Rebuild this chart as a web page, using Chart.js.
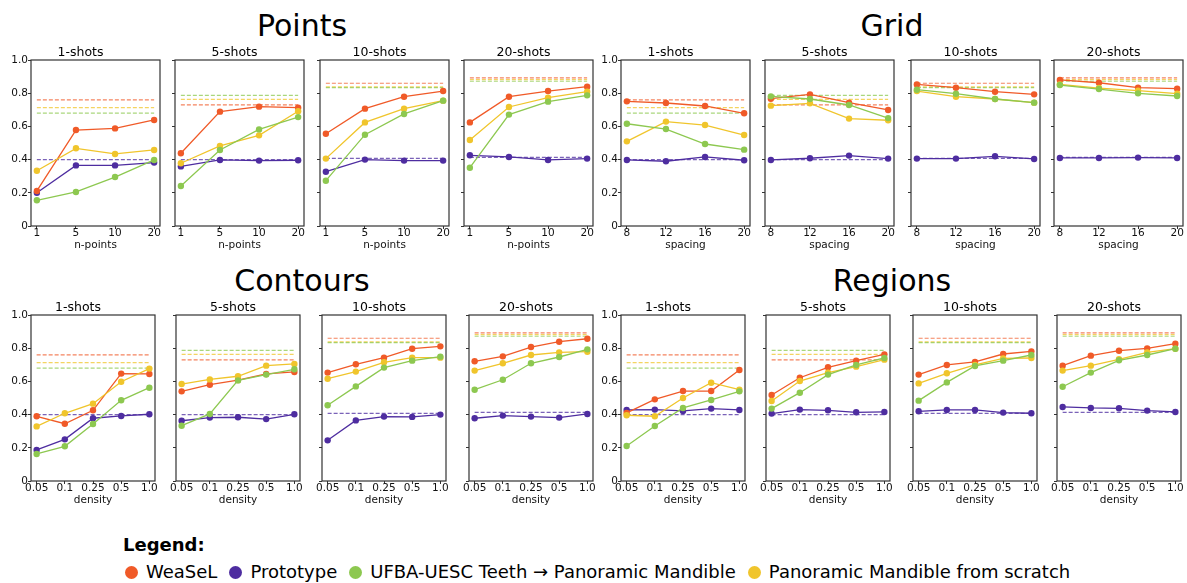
<!DOCTYPE html>
<html>
<head>
<meta charset="utf-8">
<title>Few-shot results</title>
<script src="https://cdn.jsdelivr.net/npm/chart.js@4.4.1/dist/chart.umd.min.js"></script>
<style>
  body { margin: 0; background: #fff; font-family: "DejaVu Sans", sans-serif; }
  #fig { position: relative; width: 1187px; height: 583px; overflow: hidden; background: #fff; }
  #fig canvas { position: absolute; }
  .group-title { position: absolute; width: 400px; text-align: center; font-size: 30px; line-height: 30px; color: #000; }
  #legend-title { position: absolute; left: 123px; top: 536px; font-size: 18px; line-height: 18px; font-weight: bold; color: #000; }
  #legend { position: absolute; left: 125px; top: 563px; display: flex; align-items: center; font-size: 18px; line-height: 18px; color: #000; white-space: nowrap; }
  #legend .item { display: flex; align-items: center; margin-right: 12px; }
  #legend .dot { width: 13px; height: 13px; border-radius: 50%; margin-right: 8px; }
</style>
</head>
<body>
<div id="fig">
  <div id="legend-title">Legend:</div>
  <div id="legend"></div>
</div>
<script>
// ---- labels ----
const shotTitles = ['1-shots', '5-shots', '10-shots', '20-shots'];
const pointTicks = ['1', '5', '10', '20'];
const gridTicks = ['8', '12', '16', '20'];
const densityTicks = ['0.05', '0.1', '0.25', '0.5', '1.0'];
const yTicks = [0, 0.2, 0.4, 0.6, 0.8, 1.0];
const methodNames = ['WeaSeL', 'Prototype', 'UFBA-UESC Teeth \u2192 Panoramic Mandible', 'Panoramic Mandible from scratch'];

// ---- Points (one row per shot count) ----
const pointsWeasel  = [[0.211, 0.578, 0.588, 0.639], [0.438, 0.689, 0.719, 0.713], [0.556, 0.707, 0.779, 0.813], [0.624, 0.779, 0.813, 0.839]];
const pointsProto   = [[0.200, 0.365, 0.365, 0.382], [0.359, 0.398, 0.394, 0.396], [0.327, 0.400, 0.394, 0.394], [0.426, 0.416, 0.398, 0.406]];
const pointsUfba    = [[0.155, 0.205, 0.295, 0.398], [0.241, 0.458, 0.582, 0.656], [0.273, 0.550, 0.675, 0.755], [0.351, 0.671, 0.749, 0.787]];
const pointsScratch = [[0.333, 0.468, 0.434, 0.458], [0.378, 0.482, 0.546, 0.691], [0.406, 0.624, 0.707, 0.755], [0.518, 0.717, 0.773, 0.809]];

// ---- Grid ----
const gridWeasel  = [[0.751, 0.741, 0.723, 0.679], [0.767, 0.793, 0.743, 0.699], [0.853, 0.833, 0.809, 0.793], [0.880, 0.863, 0.833, 0.827]];
const gridProto   = [[0.398, 0.390, 0.416, 0.396], [0.398, 0.408, 0.424, 0.406], [0.406, 0.406, 0.420, 0.404], [0.410, 0.410, 0.412, 0.410]];
const gridUfba    = [[0.616, 0.584, 0.494, 0.460], [0.781, 0.765, 0.729, 0.650], [0.821, 0.797, 0.765, 0.743], [0.849, 0.825, 0.799, 0.783]];
const gridScratch = [[0.510, 0.629, 0.608, 0.548], [0.725, 0.739, 0.647, 0.637], [0.813, 0.779, 0.765, 0.743], [0.853, 0.831, 0.815, 0.797]];

// ---- Contours ----
const contoursWeasel  = [[0.390, 0.345, 0.426, 0.647, 0.645], [0.540, 0.580, 0.608, 0.645, 0.657], [0.653, 0.703, 0.743, 0.797, 0.811], [0.721, 0.751, 0.807, 0.839, 0.857]];
const contoursProto   = [[0.187, 0.251, 0.378, 0.392, 0.402], [0.363, 0.382, 0.384, 0.373, 0.402], [0.245, 0.365, 0.388, 0.386, 0.400], [0.378, 0.394, 0.388, 0.382, 0.404]];
const contoursUfba    = [[0.163, 0.209, 0.343, 0.486, 0.562], [0.333, 0.404, 0.606, 0.641, 0.673], [0.456, 0.570, 0.683, 0.725, 0.749], [0.550, 0.610, 0.709, 0.747, 0.793]];
const contoursScratch = [[0.329, 0.408, 0.466, 0.598, 0.677], [0.584, 0.612, 0.631, 0.695, 0.705], [0.616, 0.659, 0.715, 0.743, 0.743], [0.665, 0.709, 0.759, 0.775, 0.779]];

// ---- Regions ----
const regionsWeasel  = [[0.410, 0.492, 0.542, 0.542, 0.669], [0.518, 0.622, 0.685, 0.725, 0.763], [0.641, 0.699, 0.717, 0.765, 0.781], [0.695, 0.755, 0.785, 0.799, 0.827]];
const regionsProto   = [[0.428, 0.430, 0.422, 0.436, 0.428], [0.406, 0.430, 0.426, 0.414, 0.416], [0.420, 0.428, 0.428, 0.412, 0.408], [0.446, 0.440, 0.438, 0.424, 0.416]];
const regionsUfba    = [[0.211, 0.331, 0.440, 0.488, 0.540], [0.436, 0.532, 0.641, 0.699, 0.741], [0.484, 0.594, 0.693, 0.725, 0.759], [0.568, 0.653, 0.727, 0.759, 0.797]];
const regionsScratch = [[0.396, 0.390, 0.500, 0.592, 0.550], [0.482, 0.602, 0.653, 0.689, 0.731], [0.588, 0.649, 0.699, 0.739, 0.741], [0.665, 0.695, 0.733, 0.775, 0.797]];

// ---- fully supervised reference (dashed), per shot count ----
const weaselBase  = [0.760, 0.730, 0.860, 0.892];
const protoBase   = [0.400, 0.400, 0.407, 0.413];
const ufbaBase    = [0.680, 0.787, 0.833, 0.872];
const scratchBase = [0.713, 0.763, 0.838, 0.882];

// ---- styling ----
const methodColors = ['#F05A28', '#4E2DA0', '#8DC850', '#F0C52C'];
const dashColors = ['rgba(240,90,40,0.75)', 'rgba(78,45,160,0.75)', 'rgba(141,200,80,0.75)', 'rgba(240,197,44,0.75)'];
const drawOrder = [2, 3, 0, 1]; // lower = drawn on top
const bases = [weaselBase, protoBase, ufbaBase, scratchBase];

const groups = [
  { name: 'Points',   xLabel: 'n-points', ticks: pointTicks,   series: [pointsWeasel, pointsProto, pointsUfba, pointsScratch],     row: 0, half: 0 },
  { name: 'Grid',     xLabel: 'spacing',  ticks: gridTicks,    series: [gridWeasel, gridProto, gridUfba, gridScratch],             row: 0, half: 1 },
  { name: 'Contours', xLabel: 'density',  ticks: densityTicks, series: [contoursWeasel, contoursProto, contoursUfba, contoursScratch], row: 1, half: 0 },
  { name: 'Regions',  xLabel: 'density',  ticks: densityTicks, series: [regionsWeasel, regionsProto, regionsUfba, regionsScratch], row: 1, half: 1 }
];

// plot rectangles
const rowTop = [60, 315];
const plotH = 166;
const rowLefts = [
  [31, 175, 320, 464, 621, 765, 911, 1054],
  [31, 176, 322, 469, 621, 766, 913, 1057]
];
const rowWidth = [129, 124];
const groupCenters = [302, 892];
const groupBaselines = [36, 291];

Chart.defaults.font.family = "'DejaVu Sans', sans-serif";
Chart.defaults.color = '#111';

// axes box drawn on top of the data
const frame = {
  id: 'frame',
  afterDraw(chart) {
    const { ctx, chartArea: a } = chart;
    ctx.save();
    ctx.strokeStyle = '#333';
    ctx.lineWidth = 1.2;
    ctx.strokeRect(a.left, a.top, a.right - a.left, a.bottom - a.top);
    ctx.restore();
  }
};

const fig = document.getElementById('fig');

function makePanel(g, s) {
  const n = g.ticks.length;
  const margin = 0.05 * (n - 1);
  const col = g.half * 4 + s;
  const plotL = rowLefts[g.row][col];
  const plotT = rowTop[g.row];
  const W = rowWidth[g.row];
  const showY = s === 0;
  const padL = showY ? 30 : 10, padR = 10, padT = 25, padB = 30;

  const canvas = document.createElement('canvas');
  canvas.width = padL + W + padR;
  canvas.height = padT + plotH + padB;
  canvas.style.left = (plotL - padL) + 'px';
  canvas.style.top = (plotT - padT) + 'px';
  fig.appendChild(canvas);

  const datasets = [];
  bases.forEach((b, m) => {
    datasets.push({
      data: [{ x: 0, y: b[s] }, { x: n - 1, y: b[s] }],
      borderColor: dashColors[m],
      borderWidth: 1.2,
      borderDash: [4, 2],
      pointRadius: 0,
      order: 10
    });
  });
  g.series.forEach((vals, m) => {
    datasets.push({
      data: vals[s].map((v, i) => ({ x: i, y: v })),
      borderColor: methodColors[m],
      backgroundColor: methodColors[m],
      borderWidth: 1.3,
      pointRadius: 3.2,
      pointBorderWidth: 0,
      order: drawOrder[m]
    });
  });

  new Chart(canvas, {
    type: 'line',
    data: { datasets },
    options: {
      responsive: false,
      animation: false,
      events: [],
      layout: { padding: { left: 0, right: padR, top: 0, bottom: 0 }, autoPadding: false },
      plugins: {
        legend: { display: false },
        tooltip: { enabled: false },
        title: {
          display: true,
          text: shotTitles[s],
          color: '#000',
          font: { size: 12.5, weight: 'normal', lineHeight: 1.2 },
          padding: { top: 10, bottom: 0 }
        }
      },
      scales: {
        x: {
          type: 'linear',
          bounds: 'data',
          min: -margin,
          max: n - 1 + margin,
          afterBuildTicks: sc => { sc.ticks = g.ticks.map((_, i) => ({ value: i })); },
          afterFit: sc => { sc.height = padB; },
          ticks: { callback: v => g.ticks[Math.round(v)], font: { size: 10.5 }, padding: -2, maxRotation: 0, autoSkip: false },
          grid: { drawOnChartArea: false, drawTicks: true, tickLength: 3, color: '#333' },
          border: { display: false },
          title: { display: true, text: g.xLabel, color: '#111', font: { size: 10.5 }, padding: { top: 0, bottom: 4.8 } }
        },
        y: {
          min: 0,
          max: 1,
          afterBuildTicks: sc => { sc.ticks = yTicks.map(v => ({ value: v })); },
          afterFit: sc => { sc.width = padL; },
          ticks: { display: showY, callback: v => (v === 0 ? '0' : v.toFixed(1)), font: { size: 10.5 }, padding: 0 },
          grid: { drawOnChartArea: false, drawTicks: true, tickLength: 3, color: '#333' },
          border: { display: false }
        }
      }
    },
    plugins: [frame]
  });
}

groups.forEach(g => {
  const t = document.createElement('div');
  t.className = 'group-title';
  t.textContent = g.name;
  t.style.left = (groupCenters[g.half] - 200) + 'px';
  t.style.top = (groupBaselines[g.row] - 25.4) + 'px';
  fig.appendChild(t);
  shotTitles.forEach((_, s) => makePanel(g, s));
});

// legend row
const legend = document.getElementById('legend');
methodNames.forEach((name, m) => {
  const item = document.createElement('span');
  item.className = 'item';
  const dot = document.createElement('span');
  dot.className = 'dot';
  dot.style.background = methodColors[m];
  item.appendChild(dot);
  item.appendChild(document.createTextNode(name));
  legend.appendChild(item);
});
</script>
</body>
</html>
